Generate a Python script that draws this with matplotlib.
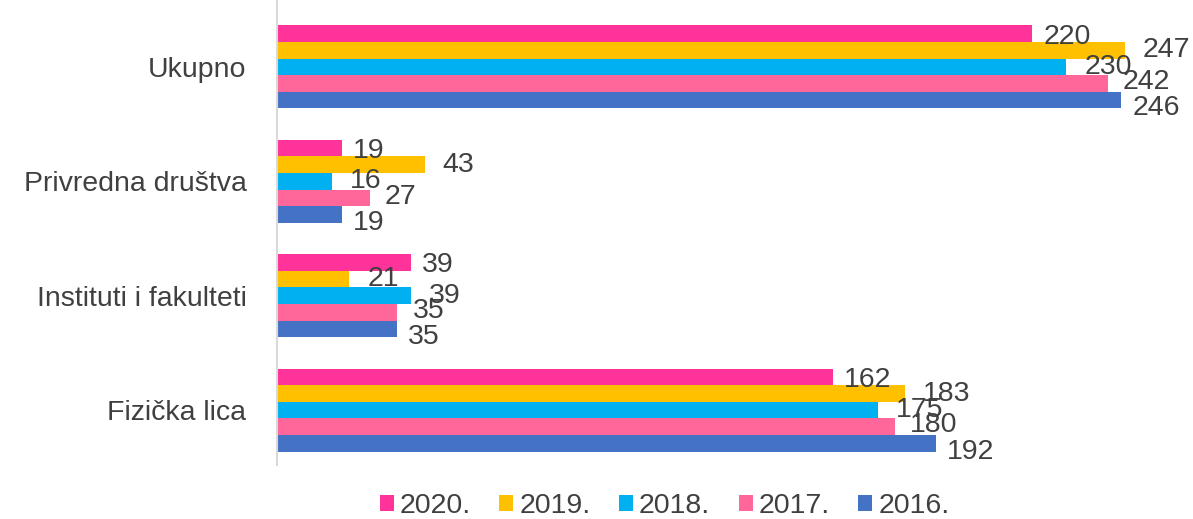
import matplotlib.pyplot as plt
import numpy as np

categories = ["Ukupno", "Privredna društva", "Instituti i fakulteti", "Fizička lica"]
years = ["2020.", "2019.", "2018.", "2017.", "2016."]
v2020 = [220, 19, 39, 162]
v2019 = [247, 43, 21, 183]
v2018 = [230, 16, 39, 175]
v2017 = [242, 27, 35, 180]
v2016 = [246, 19, 35, 192]
series = [v2020, v2019, v2018, v2017, v2016]

colors = ["#FF3399", "#FFC000", "#00B0F0", "#FF6699", "#4472C4"]
# label nudges (points) to mimic the reference label placement
dx = [8, 13, 13, 11, 8]
dy = [-2, 0, 0, 1, -6]

plt.rcParams['font.family'] = ['Liberation Sans', 'DejaVu Sans']
txt = "#404040"
fs = 20.5

fig = plt.figure(figsize=(11.93, 5.19), dpi=100)
ax = fig.add_axes([277/1193, 1 - 465/519, (1190 - 277)/1193, 465/519])

y = np.arange(len(categories))
h = 0.145
for i, (vals, lab, c) in enumerate(zip(series, years, colors)):
    pos = y + (i - 2) * h
    bars = ax.barh(pos, vals, height=h, color=c, label=lab)
    for b, v in zip(bars, vals):
        ax.annotate(str(v), (b.get_width(), b.get_y() + b.get_height()/2),
                    xytext=(dx[i], dy[i]), textcoords="offset points",
                    ha="left", va="center", fontsize=fs, color=txt)

ax.set_xlim(0, 266)
ax.set_ylim(3.48, -0.585)
ax.set_yticks(y)
ax.set_yticklabels(categories, fontsize=fs, color=txt)
ax.tick_params(axis="y", length=0, pad=22)
ax.set_xticks([])
for s in ["top", "right", "bottom"]:
    ax.spines[s].set_visible(False)
ax.spines["left"].set_color("#D9D9D9")
ax.spines["left"].set_linewidth(1.5)

fig.legend(loc="lower center", bbox_to_anchor=(0.557, -0.05), ncol=5, frameon=False,
           fontsize=fs, handlelength=0.5, handleheight=0.5, handletextpad=0.2,
           columnspacing=1.0, labelcolor=txt)

fig.savefig("out.png", dpi=100)
